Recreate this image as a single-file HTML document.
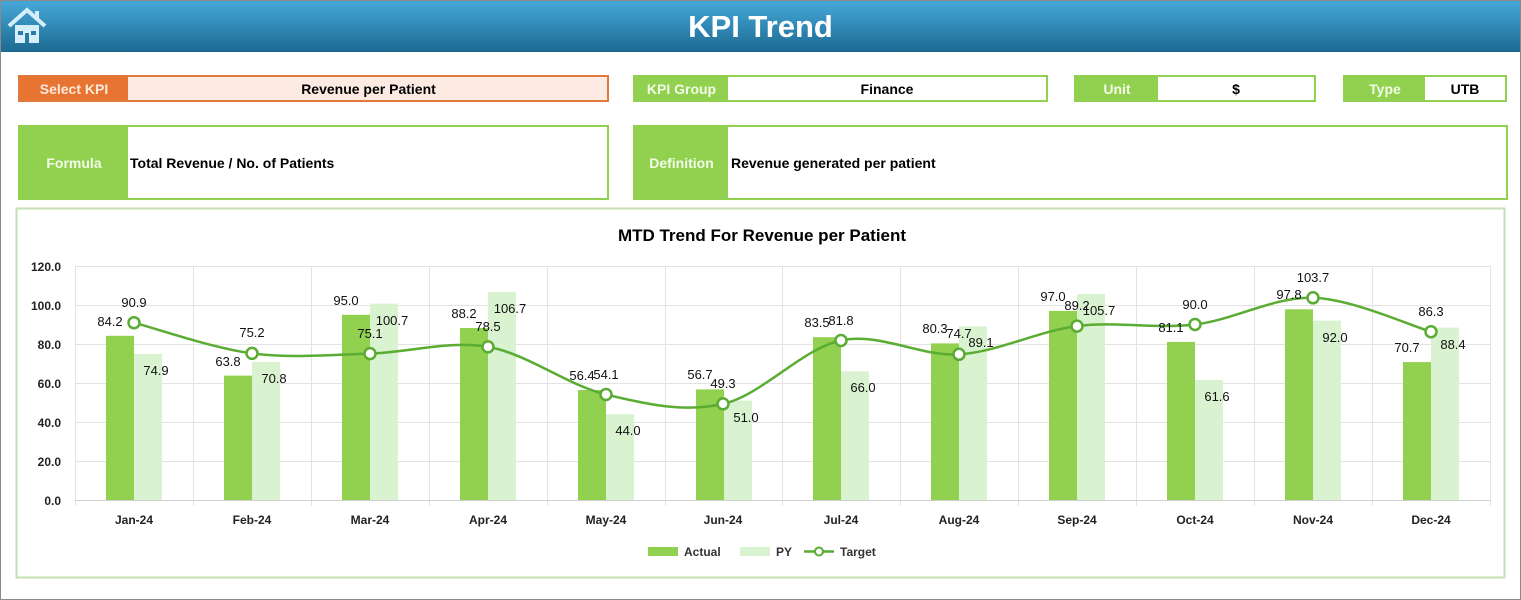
<!DOCTYPE html>
<html><head><meta charset="utf-8"><style>
body{margin:0;width:1521px;height:600px;overflow:hidden;background:#fff;font-family:"Liberation Sans",sans-serif}
.frame{position:absolute;left:0;top:0;width:1519px;height:598px;border:1px solid #8a8a8a}
.hdr{position:absolute;left:1px;top:1px;width:1519px;height:51px;background:linear-gradient(#46a8d8,#1b6a92)}
.hdr h1{margin:0;text-align:center;color:#fff;font-size:31px;line-height:51px;font-weight:bold}
.box{position:absolute;box-sizing:border-box;border:2px solid #92d050;background:#fff;font-weight:bold;font-size:14px;color:#000}
.lab{position:absolute;left:0;top:0;bottom:0;background:#92d050;color:#f3fbe9;display:flex;align-items:center;justify-content:center}
.val{position:absolute;top:0;bottom:0;right:0;display:flex;align-items:center;justify-content:center}
</style></head><body>
<div class="frame"></div>
<div class="hdr"><h1>KPI Trend</h1>
<svg style="position:absolute;left:6px;top:6px" width="40" height="38" viewBox="0 0 40 38"><path d="M2 19 L20 3 L38 19" fill="none" stroke="#d6eefa" stroke-width="4"/><rect x="28" y="4" width="4" height="9" fill="#d6eefa"/><rect x="8" y="18" width="24" height="18" fill="#d6eefa"/><rect x="11" y="24" width="5" height="4" fill="#2a7aa8"/><rect x="24" y="24" width="5" height="4" fill="#2a7aa8"/><rect x="18" y="26" width="4" height="10" fill="#2a7aa8"/></svg></div>

<div class="box" style="left:18px;top:75px;width:591px;height:27px;border-color:#e07a3c;background:#fdebe3"><div class="lab" style="width:108px;background:#e87432;color:#fde9dc">Select KPI</div><div class="val" style="left:110px">Revenue per Patient</div></div>
<div class="box" style="left:633px;top:75px;width:415px;height:27px"><div class="lab" style="width:93px">KPI Group</div><div class="val" style="left:93px">Finance</div></div>
<div class="box" style="left:1074px;top:75px;width:242px;height:27px"><div class="lab" style="width:82px">Unit</div><div class="val" style="left:82px">$</div></div>
<div class="box" style="left:1343px;top:75px;width:164px;height:27px"><div class="lab" style="width:80px">Type</div><div class="val" style="left:80px">UTB</div></div>
<div class="box" style="left:18px;top:125px;width:591px;height:75px"><div class="lab" style="width:108px">Formula</div><div class="val" style="left:110px;justify-content:flex-start">Total Revenue / No. of Patients</div></div>
<div class="box" style="left:633px;top:125px;width:875px;height:75px"><div class="lab" style="width:93px">Definition</div><div class="val" style="left:96px;justify-content:flex-start">Revenue generated per patient</div></div>

<svg style="position:absolute;left:0;top:0" width="1521" height="600" font-family="Liberation Sans, sans-serif">
<rect x="16.5" y="208.5" width="1488" height="369" fill="none" stroke="#c5e0b3" stroke-width="2"/>
<text x="762" y="241" text-anchor="middle" font-size="17" font-weight="bold">MTD Trend For Revenue per Patient</text>
<g stroke="#e3e3e3" stroke-width="1">
<line x1="75" x2="1490" y1="266.5" y2="266.5"/><line x1="75" x2="1490" y1="305.5" y2="305.5"/><line x1="75" x2="1490" y1="344.5" y2="344.5"/><line x1="75" x2="1490" y1="383.5" y2="383.5"/><line x1="75" x2="1490" y1="422.5" y2="422.5"/><line x1="75" x2="1490" y1="461.5" y2="461.5"/>
<line x1="75.5" x2="75.5" y1="266" y2="506"/><line x1="193.5" x2="193.5" y1="266" y2="506"/><line x1="311.5" x2="311.5" y1="266" y2="506"/><line x1="429.5" x2="429.5" y1="266" y2="506"/><line x1="547.5" x2="547.5" y1="266" y2="506"/><line x1="665.5" x2="665.5" y1="266" y2="506"/><line x1="782.5" x2="782.5" y1="266" y2="506"/><line x1="900.5" x2="900.5" y1="266" y2="506"/><line x1="1018.5" x2="1018.5" y1="266" y2="506"/><line x1="1136.5" x2="1136.5" y1="266" y2="506"/><line x1="1254.5" x2="1254.5" y1="266" y2="506"/><line x1="1372.5" x2="1372.5" y1="266" y2="506"/><line x1="1490.5" x2="1490.5" y1="266" y2="506"/>
</g>
<line x1="75" x2="1490" y1="500.5" y2="500.5" stroke="#d0d0d0"/>
<g font-size="12" font-weight="bold" text-anchor="end" fill="#222">
<text x="61" y="271">120.0</text><text x="61" y="310">100.0</text><text x="61" y="349">80.0</text><text x="61" y="388">60.0</text><text x="61" y="427">40.0</text><text x="61" y="466">20.0</text><text x="61" y="505">0.0</text></g>
<g font-size="12" font-weight="bold" text-anchor="middle" fill="#222">
<text x="134" y="524">Jan-24</text><text x="252" y="524">Feb-24</text><text x="370" y="524">Mar-24</text><text x="488" y="524">Apr-24</text><text x="606" y="524">May-24</text><text x="723" y="524">Jun-24</text><text x="841" y="524">Jul-24</text><text x="959" y="524">Aug-24</text><text x="1077" y="524">Sep-24</text><text x="1195" y="524">Oct-24</text><text x="1313" y="524">Nov-24</text><text x="1431" y="524">Dec-24</text></g>
<g fill="#92d050">
<rect x="106" y="335.8" width="28" height="164.2"/>
<rect x="224" y="375.6" width="28" height="124.4"/>
<rect x="342" y="314.8" width="28" height="185.2"/>
<rect x="460" y="328" width="28" height="172"/>
<rect x="578" y="390" width="28" height="110"/>
<rect x="696" y="389.4" width="28" height="110.6"/>
<rect x="813" y="337.2" width="28" height="162.8"/>
<rect x="931" y="343.4" width="28" height="156.6"/>
<rect x="1049" y="310.9" width="28" height="189.1"/>
<rect x="1167" y="341.9" width="28" height="158.1"/>
<rect x="1285" y="309.3" width="28" height="190.7"/>
<rect x="1403" y="362.1" width="28" height="137.9"/>
</g>
<g fill="#d9f2d0">
<rect x="134" y="353.9" width="28" height="146.1"/>
<rect x="252" y="361.9" width="28" height="138.1"/>
<rect x="370" y="303.6" width="28" height="196.4"/>
<rect x="488" y="291.9" width="28" height="208.1"/>
<rect x="606" y="414.2" width="28" height="85.8"/>
<rect x="724" y="400.6" width="28" height="99.4"/>
<rect x="841" y="371.3" width="28" height="128.7"/>
<rect x="959" y="326.3" width="28" height="173.7"/>
<rect x="1077" y="293.9" width="28" height="206.1"/>
<rect x="1195" y="379.9" width="28" height="120.1"/>
<rect x="1313" y="320.6" width="28" height="179.4"/>
<rect x="1431" y="327.6" width="28" height="172.4"/>
</g>
<path d="M134,322.7 C153.7,327.8 212.7,348.3 252,353.4 C291.3,358.6 330.7,354.7 370,353.6 C409.3,352.5 448.7,340.1 488,346.9 C527.3,353.7 566.7,385 606,394.5 C645.3,404 683.7,412.9 723,403.9 C762.3,394.9 801.7,348.8 841,340.5 C880.3,332.2 919.7,356.7 959,354.3 C998.3,351.9 1037.7,331.1 1077,326.1 C1116.3,321.1 1155.7,329.2 1195,324.5 C1234.3,319.8 1273.7,296.6 1313,297.8 C1352.3,299 1411.3,326 1431,331.7" fill="none" stroke="#5aac32" stroke-width="2.5"/>
<g fill="#fff" stroke="#5aac32" stroke-width="2.5">
<circle cx="134" cy="322.7" r="5.5"/><circle cx="252" cy="353.4" r="5.5"/><circle cx="370" cy="353.6" r="5.5"/><circle cx="488" cy="346.9" r="5.5"/><circle cx="606" cy="394.5" r="5.5"/><circle cx="723" cy="403.9" r="5.5"/><circle cx="841" cy="340.5" r="5.5"/><circle cx="959" cy="354.3" r="5.5"/><circle cx="1077" cy="326.1" r="5.5"/><circle cx="1195" cy="324.5" r="5.5"/><circle cx="1313" cy="297.8" r="5.5"/><circle cx="1431" cy="331.7" r="5.5"/>
</g>
<g font-size="13" fill="#111" text-anchor="middle">
<text x="110" y="326">84.2</text><text x="228" y="366">63.8</text><text x="346" y="305">95.0</text><text x="464" y="318">88.2</text><text x="582" y="380">56.4</text><text x="700" y="379">56.7</text><text x="817" y="327">83.5</text><text x="935" y="333">80.3</text><text x="1053" y="301">97.0</text><text x="1171" y="332">81.1</text><text x="1289" y="299">97.8</text><text x="1407" y="352">70.7</text>
<text x="156" y="375">74.9</text><text x="274" y="383">70.8</text><text x="392" y="325">100.7</text><text x="510" y="313">106.7</text><text x="628" y="435">44.0</text><text x="746" y="422">51.0</text><text x="863" y="392">66.0</text><text x="981" y="347">89.1</text><text x="1099" y="315">105.7</text><text x="1217" y="401">61.6</text><text x="1335" y="342">92.0</text><text x="1453" y="349">88.4</text>
<text x="134" y="307">90.9</text><text x="252" y="337">75.2</text><text x="370" y="338">75.1</text><text x="488" y="331">78.5</text><text x="606" y="379">54.1</text><text x="723" y="388">49.3</text><text x="841" y="325">81.8</text><text x="959" y="338">74.7</text><text x="1077" y="310">89.2</text><text x="1195" y="309">90.0</text><text x="1313" y="282">103.7</text><text x="1431" y="316">86.3</text>
</g>
<g font-size="12" font-weight="bold" fill="#333">
<rect x="648" y="547" width="30" height="9" fill="#92d050"/><text x="684" y="556">Actual</text>
<rect x="740" y="547" width="30" height="9" fill="#d9f2d0"/><text x="776" y="556">PY</text>
<line x1="804" x2="834" y1="551.5" y2="551.5" stroke="#5aac32" stroke-width="2.5"/><circle cx="819" cy="551.5" r="4" fill="#fff" stroke="#5aac32" stroke-width="2"/><text x="840" y="556">Target</text></g>
</svg>
</body></html>
